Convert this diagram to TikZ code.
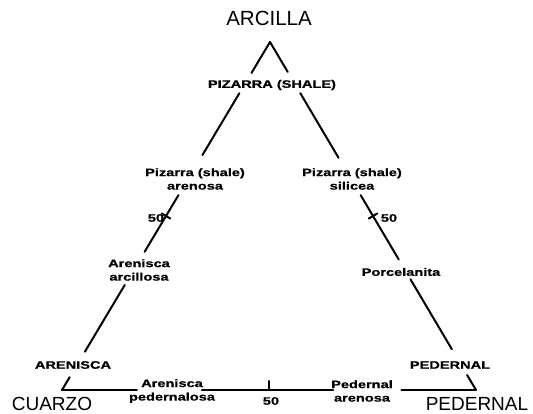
\documentclass[tikz,border=0pt]{standalone}
\usepackage{fontspec}
\setmainfont{Liberation Sans}
\newfontfamily\rockfont{Liberation Sans}[FakeStretch=1.35, BoldFeatures={FakeBold=0.8}]
\usetikzlibrary{calc}

\begin{document}
\begin{tikzpicture}[x=1pt,y=-1pt,
    side/.style={line width=2pt, line cap=round},
    corner/.style={font=\fontsize{19}{19}\selectfont, inner sep=0pt},
    rock/.style={font=\rockfont\bfseries\fontsize{10.8}{13.5}\selectfont, align=center, inner sep=0pt}]
  \useasboundingbox (0,0) rectangle (533,414);
  \coordinate (top) at (270,42);
  \coordinate (qz) at (62,390);
  \coordinate (ch) at (476,390);
  % corners
  \node[corner, font=\fontsize{20.5}{20.5}\selectfont] (arcilla) at (269,18) {ARCILLA};
  \node[corner] (cuarzo) at (52,404) {CUARZO};
  \node[corner] (pedernal) at (477,404) {PEDERNAL};
  % rock names
  \node[rock] (shale) at (272,85) {PIZARRA (SHALE)};
  \node[rock] (shalear) at (195,179) {Pizarra (shale)\\arenosa};
  \node[rock] (shalesi) at (352,179) {Pizarra (shale)\\silicea};
  \node[rock] (arearc) at (139,270) {Arenisca\\arcillosa};
  \node[rock] (porc) at (401,272) {Porcelanita};
  \node[rock] (arenisca) at (73,365) {ARENISCA};
  \node[rock] (chert) at (450,365) {PEDERNAL};
  \node[rock] (areped) at (172,391) {Arenisca\\pedernalosa};
  \node[rock] (pedare) at (362,391) {Pedernal\\arenosa};
  % sides
  \foreach \a/\b in {0/0.089, 0.147/0.325, 0.44/0.603, 0.698/0.89, 0.963/1}
    \draw[side] ($(top)!\a!(qz)$) -- ($(top)!\b!(qz)$);
  \foreach \a/\b in {0/0.086, 0.147/0.333, 0.44/0.625, 0.682/0.883, 0.957/1}
    \draw[side] ($(top)!\a!(ch)$) -- ($(top)!\b!(ch)$);
  \foreach \a/\b in {0/0.181, 0.338/0.655, 0.82/1}
    \draw[side] ($(qz)!\a!(ch)$) -- ($(qz)!\b!(ch)$);
  % 50 marks
  \coordinate (mleft) at ($(top)!0.5!(qz)$);
  \coordinate (mright) at ($(top)!0.5!(ch)$);
  \coordinate (mbase) at ($(qz)!0.5!(ch)$);
  \draw[side] ($(mleft)!5pt!90:(top)$) -- ($(mleft)!5pt!-90:(top)$);
  \draw[side] ($(mright)!5pt!90:(top)$) -- ($(mright)!5pt!-90:(top)$);
  \draw[side] (mbase) -- ++(0,-9);
  \node[rock] (fleft) at (156,218) {50};
  \node[rock] (fright) at (389,218) {50};
  \node[rock] (fbase) at (271,401) {50};
\end{tikzpicture}
\end{document}
